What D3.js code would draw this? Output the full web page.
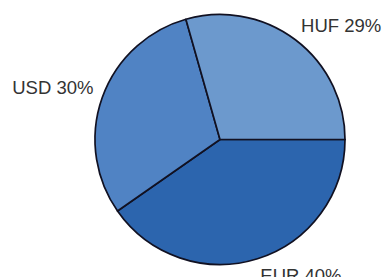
<!DOCTYPE html>
<html>
<head>
<meta charset="utf-8">
<script src="https://cdn.jsdelivr.net/npm/d3@7"></script>
<style>
  body { margin: 0; background: #fff; }
  text { font-family: "Liberation Sans", Arial, sans-serif; }
</style>
</head>
<body>
<svg id="chart"></svg>
<script>
// currency shares (clockwise from 3 o'clock)
var currencies = ["EUR", "USD", "HUF"];
var shares = [40.3, 30.3, 29.4];
var labelText = ["EUR 40%", "USD 30%", "HUF 29%"];
var colors = ["#2c65ae", "#5083c4", "#6c99cd"];

var width = 382, height = 277;
var cx = 220, cy = 139.5, radius = 125;

var svg = d3.select("#chart")
  .attr("width", width)
  .attr("height", height);

var g = svg.append("g")
  .attr("transform", "translate(" + cx + "," + cy + ")");

var pie = d3.pie()
  .sort(null)
  .startAngle(Math.PI / 2)
  .endAngle(Math.PI / 2 + 2 * Math.PI);

var arcs = pie(shares);

var arc = d3.arc().innerRadius(0).outerRadius(radius);
var labelArc = d3.arc().innerRadius(radius * 1.075).outerRadius(radius * 1.075);

g.selectAll("path")
  .data(arcs)
  .enter().append("path")
  .attr("d", arc)
  .attr("fill", function(d, i) { return colors[i]; })
  .attr("stroke", "#111122")
  .attr("stroke-width", 1.7)
  .attr("stroke-linejoin", "round");

// labels sit above the anchor on the upper half, hang below it on the lower half
g.selectAll("text")
  .data(arcs)
  .enter().append("text")
  .attr("transform", function(d) {
    return "translate(" + labelArc.centroid(d) + ")";
  })
  .attr("dy", function(d) {
    var mid = (d.startAngle + d.endAngle) / 2;
    return Math.cos(mid) >= 0 ? "0" : "0.8em";
  })
  .attr("text-anchor", function(d) {
    var mid = (d.startAngle + d.endAngle) / 2;
    return Math.sin(mid) >= 0 ? "start" : "end";
  })
  .attr("fill", "#333")
  .style("font-size", "18.5px")
  .text(function(d, i) { return labelText[i]; });
</script>
</body>
</html>
